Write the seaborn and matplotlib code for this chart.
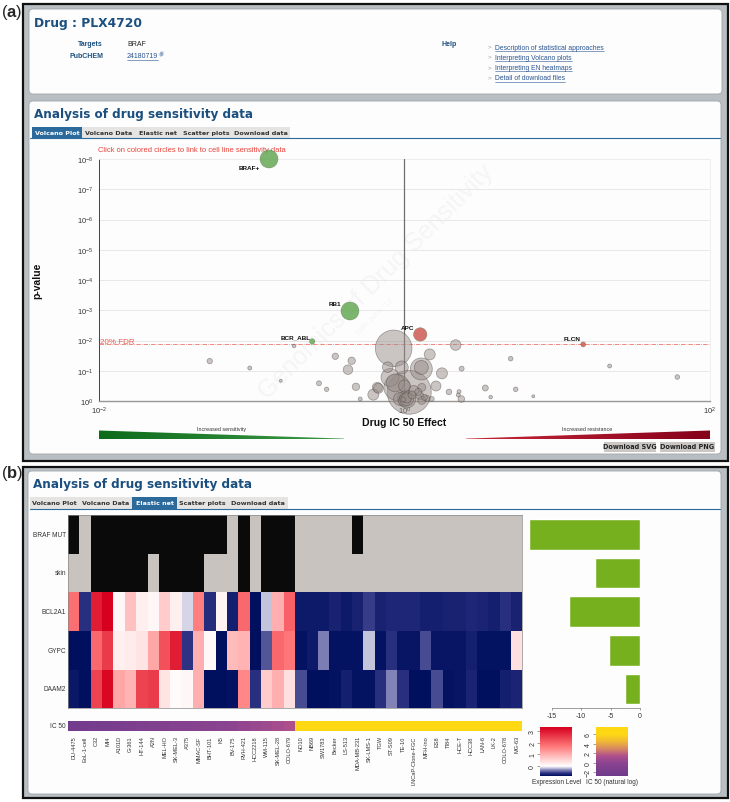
import numpy as np
import pandas as pd
import matplotlib
matplotlib.use('Agg')
import matplotlib.pyplot as plt
import seaborn as sns
from matplotlib.colors import LinearSegmentedColormap, ListedColormap
from matplotlib.patches import FancyBboxPatch, Rectangle, Polygon
from matplotlib.ticker import FixedLocator, NullFormatter

W, H = 730, 803

# volcano plot, log10 of effect and p-value
grey_effect = [-0.071, 0.031, -0.05, 0.11, -0.095, 0.11, -0.018, -0.11, 0.335, 0.165, 0.245,
               0.206, -0.178, -0.204, -0.171, 0.014, -0.03, 0.0, 0.113, 0.10, 0.113, 0.145,
               0.178, 0.06, 0.13, 0.374, 0.291, 0.357, 0.352, 0.372, 0.529, 0.564, 0.695,
               0.728, 0.843, 1.343, 1.786, -0.723, -1.275, -1.013, -0.81, -0.56, -0.51,
               -0.453, -0.346, -0.37, -0.318, -0.29, 0.014, 0.014, -0.01, 0.05, 0.09, -0.06, 0.0]
grey_pvalue = [-1.74, -0.29, -0.45, -1.06, -0.78, -1.11, -1.11, -1.12, -1.85, -1.54, -0.915,
               -0.496, -0.45, -0.21, -0.42, -0.066, -0.066, -0.02, -0.45, -0.175, -0.02, -0.09,
               -0.066, -0.35, -0.12, -1.07, -0.3, -0.31, -0.2, -0.066, -0.43, -0.13, -1.4,
               -0.387, -0.155, -1.157, -0.793, -1.82, -1.32, -1.09, -0.67, -0.585, -0.387,
               -1.478, -1.33, -1.035, -0.47, -0.066, -0.07, -0.1, -0.05, -0.2, -0.3, -0.6, -0.5]
grey_bubble = [18.3, 22, 13, 11, 9, 7, 6.5, 5.3, 5.3, 5.5, 5.5, 5, 5, 5.5, 5, 9, 6.5, 6, 4, 4, 4,
               3, 2.5, 5, 3, 2.5, 2.8, 2, 2, 3.3, 3, 1.8, 2.3, 2.3, 1.5, 2, 2.3, 1.8, 2.7, 2,
               1.5, 2.5, 2.2, 3.2, 3.7, 4.8, 3.7, 2, 7, 5, 2.5, 4, 3.5, 9, 6]
hit_names = ['BRAF+', 'RB1', 'BCR_ABL', 'APC', 'FLCN']
hit_effect = [-0.887, -0.357, -0.604, 0.103, 1.17]
hit_pvalue = [-8.0, -2.975, -1.97, -2.2, -1.87]
hit_bubble = [9, 9, 2.7, 6.7, 2.5]
hit_kind = ['sens', 'sens', 'sens', 'res', 'res']
fdr_pvalue = -1.875
y_ticks = [-8, -7, -6, -5, -4, -3, -2, -1, 0]

# elastic net heatmap
cell_lines = ['DU-4475', 'EoL-1-cell', 'C32', 'MI4', 'A101D', 'G-361', 'HT-144', 'A2N', 'MEL-HO',
              'SK-MEL-3', 'A375', 'MMAC-SF', 'BHT-101', 'K5', 'BV-175', 'RVH-421', 'HCC2218',
              'WM-115', 'SK-MEL-28', 'COLO-679', 'NO10', 'NB69', 'SW1783', 'Becker', 'LS-513',
              'MDA-MB-231', 'SK-LMS-1', 'TGW', 'ST-S09', 'TE-10', 'LNCaP-Clone-FGC', 'MFH-ino',
              'ES8', 'TI84', 'HCE-T', 'HCC38', 'LAN-6', 'LK-2', 'COLO-678', 'MG-63']
features = ['BRAF MUT', 'skin', 'BCL2A1', 'GYPC', 'DAAM2']
braf_mut = [1, 0, 1, 1, 1, 1, 1, 1, 1, 1, 1, 1, 1, 1, 0, 1, 0, 1, 1, 1,
            0, 0, 0, 0, 0, 1, 0, 0, 0, 0, 0, 0, 0, 0, 0, 0, 0, 0, 0, 0]
skin = [0, 0, 1, 1, 1, 1, 1, 0, 1, 1, 1, 1, 0, 0, 0, 1, 0, 1, 1, 1,
        0, 0, 0, 0, 0, 0, 0, 0, 0, 0, 0, 0, 0, 0, 0, 0, 0, 0, 0, 0]
bcl2a1 = [1.8, -.6, 2.9, 3.3, .1, .8, .2, .1, .65, .2, -.1, 1.6, -.62, .15, -.7, 1.9, -.8, -.15, 1.0, 2.0,
          -.72, -.72, -.72, -.68, -.72, -.68, -.55, -.68, -.64, -.64, -.64, -.7, -.7, -.68, -.68, -.64, -.66, -.7, -.6, -.68]
gypc = [-.8, -.8, 1.9, 2.5, .2, .25, .35, 1.1, 2.2, 2.9, -.58, 1.0, .08, -.8, .85, .95, -.8, -.47, 1.9, 1.7,
        -.78, -.73, -.35, -.78, -.78, -.78, -.15, -.78, -.6, -.76, -.76, -.5, -.76, -.76, -.76, -.7, -.78, -.78, -.78, .4]
daam2 = [-.75, -.8, 2.4, 3.2, 1.1, .95, 2.4, 2.5, .35, .05, .12, 1.0, -.8, -.8, -.78, 1.5, -.6, .65, 1.0, .4,
         -.5, -.8, -.8, -.78, -.7, -.78, -.78, -.6, -.32, -.6, -.8, -.8, -.5, -.78, -.76, -.66, -.8, -.8, -.7, -.66]
ic50 = [-2.3, -2.1, -2.0, -1.8, -1.6, -1.5, -1.3, -1.2, -1.0, -0.8, -0.7, -0.5, -0.3, -0.1, 0.1, 0.3, 0.5, 0.7, 1.0, 1.3,
        6.6, 6.6, 6.6, 6.6, 6.6, 6.6, 6.6, 6.6, 6.6, 6.6, 6.6, 6.6, 6.6, 6.6, 6.6, 6.6, 6.6, 6.6, 6.6, 6.6]
en_weight = [-18.8, -7.6, -12.05, -5.2, -2.5]

NAVY = '#1a4f7f'
BLUE_TAB = '#2c6a9c'
LINK = '#2a5590'


def px_axes(fig, x0, y0, x1, y1, **kw):
    return fig.add_axes([x0 / W, 1 - y1 / H, (x1 - x0) / W, (y1 - y0) / H], **kw)


def panel(bg, x0, y0, x1, y1):
    bg.add_patch(FancyBboxPatch((x0 + 3, y0 + 3), x1 - x0 - 6, y1 - y0 - 6, boxstyle='round,pad=3,rounding_size=4',
                                fc='#fdfdfd', ec='#9fa5a8', lw=0.6))


def tabs(bg, y0, y1, active, edges):
    names = ['Volcano Plot', 'Volcano Data', 'Elastic net', 'Scatter plots', 'Download data']
    for i, name in enumerate(names):
        x0, x1 = edges[i], edges[i + 1]
        if i == active:
            bg.add_patch(Rectangle((x0, y0), x1 - x0, y1 - y0, fc=BLUE_TAB, ec='none'))
        else:
            bg.add_patch(Rectangle((x0, y0), x1 - x0, y1 - y0, fc='#e6e4e2', ec='none'))
        bg.text((x0 + x1) / 2, (y0 + y1) / 2, name, ha='center', va='center', fontsize=4.6, fontweight='bold',
                family='DejaVu Sans', color='white' if i == active else '#333333')
    bg.plot([30, 720], [y1, y1], color=BLUE_TAB, lw=0.8)


def link(bg, fig, x, y, s, fontsize=4.9):
    t = bg.text(x, y, s, ha='left', va='center', fontsize=fontsize, color=LINK)
    ext = t.get_window_extent(fig.canvas.get_renderer())
    bg.plot([x, x + ext.width], [y + 3.6, y + 3.6], color=LINK, lw=0.4)
    return ext.width


def gradient_wedge(bg, colors, x0, x1, y0, y1, pts):
    cmap = LinearSegmentedColormap.from_list('w', colors)
    im = bg.imshow(np.linspace(0, 1, 256)[None, :], cmap=cmap, extent=[x0, x1, y1, y0], aspect='auto', zorder=2)
    poly = Polygon(pts, closed=True, transform=bg.transData, fc='none', ec='none')
    bg.add_patch(poly)
    im.set_clip_path(poly)


def draw_chrome(fig):
    bg = px_axes(fig, 0, 0, W, H)
    bg.set_xlim(0, W)
    bg.set_ylim(H, 0)
    bg.axis('off')
    for y0, y1 in [(5, 462), (468, 799)]:
        bg.add_patch(Rectangle((23, y0), 705, y1 - y0, fc='#b8bec1', ec='#111111', lw=1.6))
    panel(bg, 29, 10, 722, 95)
    panel(bg, 29, 102, 721, 455)
    panel(bg, 28, 472, 721, 795)

    bg.text(1, 13, r'($\mathbf{a}$)', fontsize=12, va='center', family='Liberation Sans')
    bg.text(1, 474, r'($\mathbf{b}$)', fontsize=12, va='center', family='Liberation Sans')

    bg.text(34, 23, 'Drug : PLX4720', fontsize=8.8, fontweight='bold', family='DejaVu Sans', color=NAVY, va='center')
    bg.text(34, 114.5, 'Analysis of drug sensitivity data', fontsize=8.65, fontweight='bold',
            family='DejaVu Sans', color=NAVY, va='center')
    bg.text(33, 485, 'Analysis of drug sensitivity data', fontsize=8.65, fontweight='bold',
            family='DejaVu Sans', color=NAVY, va='center')
    bg.text(103, 44.5, 'Targets', ha='right', va='center', fontsize=5, fontweight='bold', color=NAVY)
    bg.text(103, 57, 'PubCHEM', ha='right', va='center', fontsize=5, fontweight='bold', color=NAVY)
    bg.text(127, 44.5, 'BRAF', va='center', fontsize=5, color='#222222')
    width = link(bg, fig, 127, 57, '24180719', 5)
    bg.add_patch(Rectangle((127 + width + 1.5, 54), 2.5, 2.5, fc='none', ec=LINK, lw=0.3))
    bg.add_patch(Rectangle((127 + width + 2.5, 53), 2.5, 2.5, fc='none', ec=LINK, lw=0.3))
    bg.text(441, 44.5, 'Help', va='center', fontsize=5, fontweight='bold', color=NAVY)
    for y, s in zip([48, 58, 68.5, 79], ['Description of statistical approaches', 'Interpreting Volcano plots',
                                         'Interpreting EN heatmaps', 'Detail of download files']):
        bg.text(488, y - 1, '>', fontsize=4.5, color='#999999', va='center')
        link(bg, fig, 495, y, s)

    tabs(bg, 128, 139, 0, [32, 82, 135, 181, 231, 290])
    tabs(bg, 498, 509.5, 2, [30, 79, 132, 177, 228, 288])

    bg.text(98, 150, 'Click on colored circles to link to cell line sensitivity data', fontsize=5.4,
            color='#e8413a', va='center')
    bg.text(37, 281, 'p-value', rotation=90, ha='center', va='center', fontsize=7.5, fontweight='bold', color='#111111')
    bg.text(404.5, 423, 'Drug IC 50 Effect', ha='center', va='center', fontsize=7.6, fontweight='bold', color='#111111')

    # watermark
    bg.text(376, 282, 'Genomics of Drug Sensitivity', rotation=45, ha='center', va='center', fontsize=18,
            color='#f5f5f5', zorder=1, rotation_mode='anchor')
    bg.text(375, 317, "18th June '12", rotation=45, ha='center', va='center', fontsize=6, color='#f5f5f5',
            zorder=1, rotation_mode='anchor')

    gradient_wedge(bg, ['#0d6b1c', '#3c9a46'], 99, 344, 431.5, 440, [(99, 431.5), (344, 439.6), (344, 440), (99, 440)])
    gradient_wedge(bg, ['#c8283a', '#85001a'], 466, 710, 431.5, 440, [(466, 439.6), (710, 431.5), (710, 440), (466, 440)])
    bg.text(221.5, 429.8, 'Increased sensitivity', ha='center', va='center', fontsize=3.9, color='#333333')
    bg.text(587.5, 429.8, 'Increased resistance', ha='center', va='center', fontsize=3.9, color='#333333')

    for x0, x1, s in [(604, 656, 'Download SVG'), (660, 715, 'Download PNG')]:
        bg.add_patch(Rectangle((x0, 442.5), x1 - x0, 10, fc='#cbc7c4', ec='none'))
        bg.text((x0 + x1) / 2, 447.5, s, ha='center', va='center', fontsize=4.7, fontweight='bold',
                family='DejaVu Sans', color='#222222')
    bg.set_xlim(0, W)
    bg.set_ylim(H, 0)


def to_s(radius):
    return (2 * np.asarray(radius) * 0.72) ** 2


def draw_volcano(fig):
    ax = px_axes(fig, 99, 160, 710, 402)
    ax.patch.set_alpha(0)
    grey = pd.DataFrame({'effect': 10.0 ** np.array(grey_effect), 'p': 10.0 ** np.array(grey_pvalue)})
    hits = pd.DataFrame({'effect': 10.0 ** np.array(hit_effect), 'p': 10.0 ** np.array(hit_pvalue), 'kind': hit_kind})

    ax.set_xscale('log')
    ax.set_yscale('log')
    sns.scatterplot(data=grey, x='effect', y='p', s=to_s(grey_bubble), color='#988d89', alpha=0.5,
                    edgecolor='#4a4542', linewidth=0.5, clip_on=False, ax=ax, zorder=4)
    sns.scatterplot(data=hits, x='effect', y='p', hue='kind', palette={'sens': '#64a955', 'res': '#cf5a52'},
                    s=to_s(hit_bubble), alpha=0.85, edgecolor='#6a7a60', linewidth=0.3, clip_on=False,
                    legend=False, ax=ax, zorder=5)
    ax.set_xlim(1e-2, 1e2)
    ax.set_ylim(1e0, 1e-8)
    ax.set_xlabel('')
    ax.set_ylabel('')

    for t in y_ticks:
        ax.axhline(10.0 ** t, color='#e9e7e7', lw=0.7, zorder=0)
    ax.axvline(1, color='#6e6e6e', lw=0.9, zorder=3)
    ax.axhline(10.0 ** fdr_pvalue, color='#e8584f', lw=0.5, ls='-.', zorder=3)
    ax.text(1.02e-2, 10.0 ** -1.97, '20% FDR', color='#e8584f', fontsize=5.8, va='center', ha='left')

    ax.xaxis.set_major_locator(FixedLocator([1e-2, 1e0, 1e2]))
    ax.xaxis.set_minor_locator(FixedLocator([m * 10.0 ** d for d in range(-2, 2) for m in range(2, 10)]))
    ax.xaxis.set_minor_formatter(NullFormatter())
    ax.yaxis.set_major_locator(FixedLocator([10.0 ** t for t in y_ticks]))
    ax.yaxis.set_minor_locator(FixedLocator([m * 10.0 ** d for d in range(-8, 0) for m in range(2, 10)]))
    ax.yaxis.set_minor_formatter(NullFormatter())
    ax.tick_params(axis='y', which='major', length=3, width=0.5, labelsize=5.5, pad=1, color='#222222', labelcolor='#333333')
    ax.tick_params(axis='y', which='minor', length=1.2, width=0.3, color='#444444')
    ax.tick_params(axis='x', which='major', direction='in', length=2, width=0.5, labelsize=5.5, pad=3,
                   color='#222222', labelcolor='#333333')
    ax.tick_params(axis='x', which='minor', direction='in', length=1.2, width=0.4, color='#444444')
    for side in ['top', 'right']:
        ax.spines[side].set_color('#ededed')
        ax.spines[side].set_linewidth(0.6)
    ax.spines['left'].set_color('#222222')
    ax.spines['left'].set_linewidth(0.6)
    ax.spines['bottom'].set_color('#9a9693')
    ax.spines['bottom'].set_linewidth(1.0)

    offsets = {'BRAF+': (-9, 9, 'right'), 'RB1': (-15, -8, 'center'), 'BCR_ABL': (-17, -5, 'center'),
               'APC': (-13, -7, 'center'), 'FLCN': (-11, -5.5, 'center')}
    for name, e, p in zip(hit_names, hit_effect, hit_pvalue):
        dx, dy, ha = offsets[name]
        ax.annotate(name, (10.0 ** e, 10.0 ** p), xytext=(dx * 0.72, -dy * 0.72), textcoords='offset points',
                    ha=ha, va='center', fontsize=4.6, fontweight='bold', color='#111111',
                    annotation_clip=False, zorder=6)


def draw_heatmap(fig):
    expr_cmap = LinearSegmentedColormap.from_list('expr', [
        (0.0, '#00105f'), (0.049, '#2a3080'), (0.122, '#8c8cbc'), (0.195, '#ffffff'),
        (0.6, '#ff7a7a'), (1.0, '#d7001f')])
    ic_cmap = LinearSegmentedColormap.from_list('ic', [
        (0.0, '#6f3a8c'), (0.27, '#8c4490'), (0.41, '#b0508c'), (0.56, '#d88860'),
        (0.71, '#efb935'), (0.86, '#ffd814'), (1.0, '#ffd814')])
    status_cmap = ListedColormap(['#c8c3bf', '#0a0a0a'])

    table = pd.DataFrame([braf_mut, skin, bcl2a1, gypc, daam2], index=features, columns=cell_lines, dtype=float)
    ax = px_axes(fig, 68, 516, 522.3, 709.3)
    is_status = table.index.isin(['BRAF MUT', 'skin'])
    mask = np.zeros(table.shape, dtype=bool)
    mask[~is_status, :] = True
    sns.heatmap(table, mask=mask, cmap=status_cmap, vmin=0, vmax=1, cbar=False, ax=ax, xticklabels=False)
    sns.heatmap(table, mask=~mask, cmap=expr_cmap, vmin=-0.8, vmax=3.3, cbar=False, ax=ax, xticklabels=False)
    ax.set_xlabel('')
    ax.tick_params(axis='y', length=0, labelsize=4.7, pad=1.5, labelcolor='#333333', labelrotation=0)
    for s in ax.spines.values():
        s.set_visible(True)
        s.set_color('#8a8a8a')
        s.set_linewidth(0.5)

    ic_ax = px_axes(fig, 68, 722, 522.3, 732)
    ic_table = pd.DataFrame([ic50], index=['IC 50'], columns=cell_lines)
    sns.heatmap(ic_table, cmap=ic_cmap, vmin=-2.7, vmax=7.4, cbar=False, ax=ic_ax, xticklabels=True, yticklabels=True)
    ic_ax.set_xlabel('')
    ic_ax.tick_params(axis='y', length=0, labelsize=4.7, pad=1.5, labelcolor='#333333', labelrotation=0)
    ic_ax.tick_params(axis='x', length=0, labelsize=4.1, pad=3, labelcolor='#333333', labelrotation=90)

    bar_ax = px_axes(fig, 529.3, 516, 640, 709.3)
    bar_ax.patch.set_alpha(0)
    bars = pd.DataFrame({'feature': features, 'weight': en_weight})
    sns.barplot(data=bars, x='weight', y='feature', color='#76b01e', saturation=1, width=0.8, ax=bar_ax)
    bar_ax.set_xlim(-18.8, 0)
    bar_ax.set_xlabel('')
    bar_ax.set_ylabel('')
    bar_ax.set_yticks([])
    bar_ax.set_xticks([-15, -10, -5, 0])
    bar_ax.set_xticklabels(['-15', '-10', '-5', '0'])
    bar_ax.tick_params(axis='x', bottom=True, length=1.5, width=0.4, labelsize=5, pad=1, color='#555555', labelcolor='#333333')
    for side in ['top', 'right', 'left']:
        bar_ax.spines[side].set_visible(False)
    bar_ax.spines['bottom'].set_bounds(-15, 0)
    bar_ax.spines['bottom'].set_color('#555555')
    bar_ax.spines['bottom'].set_linewidth(0.4)

    for x0, mesh, ticks, label, lx in [(540.3, ax.collections[1], [0, 1, 2, 3], 'Expression Level', 556.5),
                                       (596, ic_ax.collections[0], [-2, 0, 2, 4, 6], 'IC 50 (natural log)', 612)]:
        cax = px_axes(fig, x0, 728.3, x0 + 31.7, 776.7)
        cb = fig.colorbar(mesh, cax=cax)
        cb.outline.set_visible(False)
        cb.set_ticks(ticks)
        cax.yaxis.set_ticks_position('left')
        cax.tick_params(axis='y', length=2, width=0.4, labelsize=5, pad=1, color='#555555', labelcolor='#333333')
        plt.setp(cax.get_yticklabels(), rotation=90, va='center')
        fig.text(lx / W, 1 - 782.7 / H, label, ha='center', va='center', fontsize=4.7, color='#333333')


def main():
    sns.set_theme(style='white')
    plt.rcParams['font.family'] = ['Liberation Sans', 'DejaVu Sans']
    plt.rcParams['mathtext.fontset'] = 'custom'
    plt.rcParams['mathtext.rm'] = 'Liberation Sans'
    plt.rcParams['mathtext.bf'] = 'Liberation Sans:bold'
    plt.rcParams['mathtext.default'] = 'regular'

    fig = plt.figure(figsize=(W / 100, H / 100), dpi=100, facecolor='white')
    draw_chrome(fig)
    draw_volcano(fig)
    draw_heatmap(fig)
    fig.savefig('out.png', dpi=100)


if __name__ == "__main__":
    main()
